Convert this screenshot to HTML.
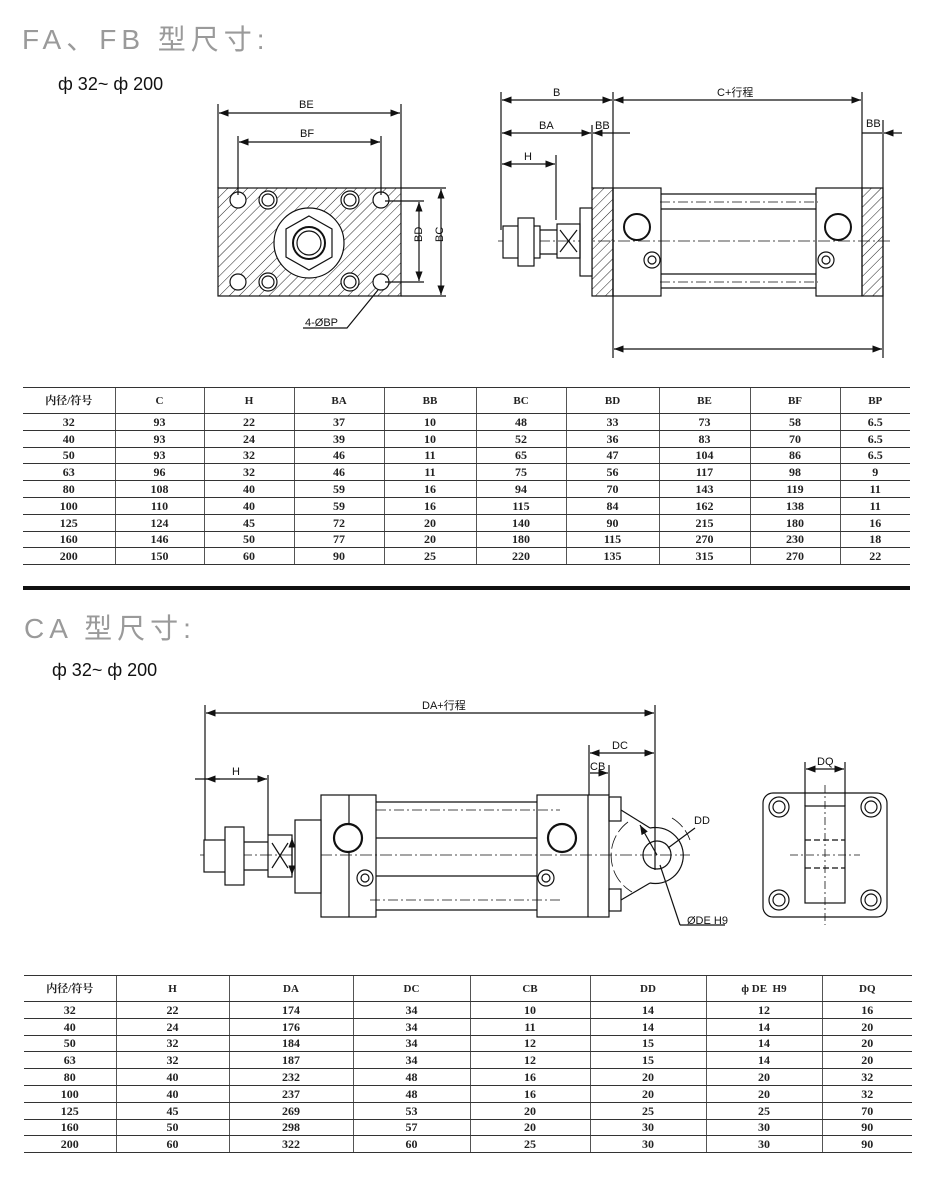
<!DOCTYPE html>
<html><head><meta charset="utf-8">
<style>
body{margin:0;background:#fff;width:942px;height:1199px;position:relative;overflow:hidden;font-family:"Liberation Sans","Noto Sans CJK SC",sans-serif;}
.t{position:absolute;color:#9a9a9a;font-size:28px;letter-spacing:5px;}
.p{position:absolute;color:#111;font-size:18px;}
table{position:absolute;border-collapse:collapse;font-family:"Liberation Serif","Noto Serif CJK SC",serif;font-weight:bold;font-size:12px;color:#222;table-layout:fixed;}
td{border-top:1.5px solid #333;border-bottom:1.5px solid #333;border-left:1px solid #555;text-align:center;padding:0;height:15.8px;line-height:14px;}
td:first-child{border-left:none;}
tr.h td{height:25px;font-size:11px;}
svg{position:absolute;left:0;top:0;}
svg text{font-family:"Liberation Sans","Noto Sans CJK SC",sans-serif;font-size:11px;fill:#111;}
</style></head><body>
<div class="t" style="left:22px;top:18px;">FA、FB 型尺寸:</div>
<div class="p" style="left:58px;top:74px;">ф 32~ ф 200</div>
<div class="t" style="left:24px;top:607px;">CA 型尺寸:</div>
<div class="p" style="left:52px;top:660px;">ф 32~ ф 200</div>

<svg width="942" height="1199" viewBox="0 0 942 1199">
<defs>
<pattern id="hat" width="7" height="7" patternUnits="userSpaceOnUse" patternTransform="rotate(45)">
<line x1="0" y1="0" x2="0" y2="7" stroke="#222" stroke-width="1"/></pattern>
<marker id="ar" markerWidth="8" markerHeight="6" refX="8" refY="3" orient="auto-start-reverse"><path d="M0,0 L8,3 L0,6z" fill="#111"/></marker>
</defs>
<g stroke="#111" stroke-width="1.2" fill="none">
<!-- FA left view -->
<rect x="218" y="188" width="183" height="108" fill="url(#hat)"/>
<circle cx="309" cy="243" r="35" fill="#fff"/>
<polygon points="309,216 332,229 332,257 309,270 286,257 286,229" fill="#fff"/>
<circle cx="309" cy="243" r="16" fill="#fff" stroke-width="2"/>
<circle cx="309" cy="243" r="12"/>
<g fill="#fff"><circle cx="238" cy="200" r="8"/><circle cx="381" cy="200" r="8"/><circle cx="238" cy="282" r="8"/><circle cx="381" cy="282" r="8"/>
<circle cx="268" cy="200" r="9"/><circle cx="350" cy="200" r="9"/><circle cx="268" cy="282" r="9"/><circle cx="350" cy="282" r="9"/></g>
<circle cx="268" cy="200" r="6"/><circle cx="350" cy="200" r="6"/><circle cx="268" cy="282" r="6"/><circle cx="350" cy="282" r="6"/>
<line x1="218" y1="104" x2="218" y2="188"/><line x1="401" y1="104" x2="401" y2="188"/>
<line x1="219" y1="113" x2="400" y2="113" marker-start="url(#ar)" marker-end="url(#ar)"/>
<line x1="238" y1="136" x2="238" y2="195"/><line x1="381" y1="136" x2="381" y2="195"/>
<line x1="239" y1="142" x2="380" y2="142" marker-start="url(#ar)" marker-end="url(#ar)"/>
<line x1="385" y1="201" x2="424" y2="201"/><line x1="385" y1="282" x2="424" y2="282"/>
<line x1="401" y1="188" x2="446" y2="188"/><line x1="401" y1="296" x2="446" y2="296"/>
<line x1="419" y1="202" x2="419" y2="281" marker-start="url(#ar)" marker-end="url(#ar)"/>
<line x1="441" y1="189" x2="441" y2="295" marker-start="url(#ar)" marker-end="url(#ar)"/>
<polyline points="378,290 347,328 303,328"/>
<!-- FA side view -->
<line x1="501" y1="92" x2="501" y2="230"/><line x1="613" y1="92" x2="613" y2="358"/><line x1="883" y1="120" x2="883" y2="358"/>
<line x1="862" y1="92" x2="862" y2="188"/><line x1="592" y1="125" x2="592" y2="188"/><line x1="556" y1="155" x2="556" y2="220"/>
<line x1="502" y1="100" x2="612" y2="100" marker-start="url(#ar)" marker-end="url(#ar)"/>
<line x1="614" y1="100" x2="861" y2="100" marker-start="url(#ar)" marker-end="url(#ar)"/>
<line x1="502" y1="133" x2="591" y2="133" marker-start="url(#ar)" marker-end="url(#ar)"/>
<line x1="593" y1="133" x2="630" y2="133" marker-start="url(#ar)"/>
<line x1="862" y1="133" x2="882" y2="133"/><line x1="902" y1="133" x2="884" y2="133" marker-end="url(#ar)"/>
<line x1="502" y1="164" x2="555" y2="164" marker-start="url(#ar)" marker-end="url(#ar)"/>
<line x1="614" y1="349" x2="882" y2="349" marker-start="url(#ar)" marker-end="url(#ar)"/>
<rect x="592" y="188" width="21" height="108" fill="url(#hat)"/>
<rect x="862" y="188" width="21" height="108" fill="url(#hat)"/>
<rect x="613" y="188" width="48" height="108"/><rect x="816" y="188" width="46" height="108"/>
<line x1="661" y1="194" x2="816" y2="194"/><line x1="661" y1="209" x2="816" y2="209"/>
<line x1="661" y1="274" x2="816" y2="274"/><line x1="661" y1="288" x2="816" y2="288"/>
<line x1="660" y1="202" x2="818" y2="202" stroke-dasharray="10,3,2,3" stroke-width="0.8"/>
<line x1="660" y1="282" x2="818" y2="282" stroke-dasharray="10,3,2,3" stroke-width="0.8"/>
<line x1="498" y1="241" x2="890" y2="241" stroke-dasharray="12,3,2,3" stroke-width="0.8"/>
<circle cx="637" cy="227" r="13" stroke-width="2"/><circle cx="838" cy="227" r="13" stroke-width="2"/>
<circle cx="652" cy="260" r="8"/><circle cx="652" cy="260" r="4"/><circle cx="826" cy="260" r="8"/><circle cx="826" cy="260" r="4"/>
<rect x="580" y="208" width="12" height="68" fill="#fff"/>
<rect x="557" y="224" width="23" height="34"/><line x1="560" y1="230" x2="577" y2="252"/><line x1="577" y1="230" x2="560" y2="252"/>
<rect x="503" y="226" width="37" height="32" fill="#fff"/>
<rect x="518" y="218" width="16" height="48" fill="#fff"/>
<line x1="540" y1="230" x2="557" y2="230"/><line x1="540" y1="254" x2="557" y2="254"/>
<!-- CA view -->
<line x1="205" y1="705" x2="205" y2="840"/><line x1="655" y1="705" x2="655" y2="870"/>
<line x1="206" y1="713" x2="654" y2="713" marker-start="url(#ar)" marker-end="url(#ar)"/>
<line x1="589" y1="745" x2="589" y2="795"/><line x1="609" y1="765" x2="609" y2="795"/>
<line x1="590" y1="753" x2="654" y2="753" marker-start="url(#ar)" marker-end="url(#ar)"/>
<line x1="590" y1="773" x2="608" y2="773" marker-end="url(#ar)"/>
<line x1="268" y1="775" x2="268" y2="835"/>
<line x1="195" y1="779" x2="267" y2="779" marker-end="url(#ar)"/>
<line x1="206" y1="779" x2="220" y2="779" marker-start="url(#ar)"/>
<rect x="321" y="795" width="55" height="122"/><line x1="349" y1="795" x2="349" y2="917"/>
<rect x="537" y="795" width="72" height="122"/><line x1="588" y1="795" x2="588" y2="917"/>
<line x1="376" y1="802" x2="537" y2="802"/><line x1="376" y1="838" x2="537" y2="838"/>
<line x1="376" y1="876" x2="537" y2="876"/><line x1="376" y1="910" x2="537" y2="910"/>
<line x1="376" y1="810" x2="560" y2="810" stroke-dasharray="10,3,2,3" stroke-width="0.8"/>
<line x1="370" y1="900" x2="560" y2="900" stroke-dasharray="10,3,2,3" stroke-width="0.8"/>
<line x1="200" y1="855" x2="690" y2="855" stroke-dasharray="12,3,2,3" stroke-width="0.8"/>
<circle cx="348" cy="838" r="14" stroke-width="2.2" fill="#fff"/><circle cx="562" cy="838" r="14" stroke-width="2.2" fill="#fff"/>
<circle cx="365" cy="878" r="8"/><circle cx="365" cy="878" r="4"/><circle cx="546" cy="878" r="8"/><circle cx="546" cy="878" r="4"/>
<rect x="609" y="797" width="12" height="24"/><rect x="609" y="889" width="12" height="22"/>
<line x1="621" y1="810" x2="650" y2="828"/><line x1="621" y1="900" x2="650" y2="883"/>
<path d="M650,828 A28,28 0 1 1 650,883"/>
<circle cx="657" cy="855" r="14"/>
<path d="M628,822 A42,42 0 0 0 632,892" stroke-dasharray="14,4" stroke-width="0.8"/>
<path d="M672,818 A42,42 0 0 1 690,840" stroke-dasharray="14,4" stroke-width="0.8"/>
<line x1="657" y1="855" x2="640" y2="825" marker-end="url(#ar)"/>
<line x1="668" y1="848" x2="695" y2="828"/>
<line x1="660" y1="865" x2="680" y2="925" /><line x1="680" y1="925" x2="725" y2="925"/>
<rect x="295" y="820" width="26" height="73" fill="#fff"/>
<line x1="292" y1="838" x2="292" y2="875" marker-start="url(#ar)" marker-end="url(#ar)"/>
<rect x="268" y="835" width="24" height="42"/><line x1="272" y1="843" x2="288" y2="868"/><line x1="288" y1="843" x2="272" y2="868"/>
<rect x="204" y="840" width="38" height="32" fill="#fff"/>
<rect x="225" y="827" width="19" height="58" fill="#fff"/>
<line x1="244" y1="842" x2="268" y2="842"/><line x1="244" y1="870" x2="268" y2="870"/>
<!-- CA end view -->
<rect x="763" y="793" width="124" height="124" rx="10"/>
<rect x="805" y="806" width="40" height="97"/>
<line x1="805" y1="762" x2="805" y2="806"/><line x1="845" y1="762" x2="845" y2="806"/>
<line x1="806" y1="769" x2="844" y2="769" marker-start="url(#ar)" marker-end="url(#ar)"/>
<line x1="825" y1="785" x2="825" y2="925" stroke-dasharray="8,3,2,3" stroke-width="0.8"/>
<line x1="790" y1="855" x2="860" y2="855" stroke-dasharray="8,3,2,3" stroke-width="0.8"/>
<line x1="805" y1="840" x2="845" y2="840" stroke-dasharray="6,3"/><line x1="805" y1="868" x2="845" y2="868" stroke-dasharray="6,3"/>
<circle cx="779" cy="807" r="10"/><circle cx="779" cy="807" r="6"/><circle cx="871" cy="807" r="10"/><circle cx="871" cy="807" r="6"/>
<circle cx="779" cy="900" r="10"/><circle cx="779" cy="900" r="6"/><circle cx="871" cy="900" r="10"/><circle cx="871" cy="900" r="6"/>
</g>
<line x1="23" y1="588" x2="910" y2="588" stroke="#111" stroke-width="4"/>
<text x="299" y="108">BE</text><text x="300" y="137">BF</text>
<text x="416" y="248" transform="rotate(-90 416 242)">BD</text>
<text x="437" y="248" transform="rotate(-90 437 242)">BC</text>
<text x="305" y="326">4-ØBP</text>
<text x="553" y="96">B</text><text x="717" y="96">C+行程</text>
<text x="539" y="129">BA</text><text x="595" y="129">BB</text><text x="866" y="127">BB</text>
<text x="524" y="160">H</text>
<text x="422" y="709">DA+行程</text><text x="612" y="749">DC</text><text x="590" y="770">CB</text>
<text x="232" y="775">H</text><text x="694" y="824">DD</text><text x="687" y="924">ØDE H9</text>
<text x="817" y="765">DQ</text>
</svg>

<table style="left:23px;top:387px;width:887px;">
<colgroup><col style="width:92px"><col style="width:89px"><col style="width:90px"><col style="width:90px"><col style="width:92px"><col style="width:90px"><col style="width:93px"><col style="width:91px"><col style="width:90px"><col style="width:70px"></colgroup>
<tr class="h"><td>内径/符号</td><td>C</td><td>H</td><td>BA</td><td>BB</td><td>BC</td><td>BD</td><td>BE</td><td>BF</td><td>BP</td></tr>
<tr><td>32</td><td>93</td><td>22</td><td>37</td><td>10</td><td>48</td><td>33</td><td>73</td><td>58</td><td>6.5</td></tr>
<tr><td>40</td><td>93</td><td>24</td><td>39</td><td>10</td><td>52</td><td>36</td><td>83</td><td>70</td><td>6.5</td></tr>
<tr><td>50</td><td>93</td><td>32</td><td>46</td><td>11</td><td>65</td><td>47</td><td>104</td><td>86</td><td>6.5</td></tr>
<tr><td>63</td><td>96</td><td>32</td><td>46</td><td>11</td><td>75</td><td>56</td><td>117</td><td>98</td><td>9</td></tr>
<tr><td>80</td><td>108</td><td>40</td><td>59</td><td>16</td><td>94</td><td>70</td><td>143</td><td>119</td><td>11</td></tr>
<tr><td>100</td><td>110</td><td>40</td><td>59</td><td>16</td><td>115</td><td>84</td><td>162</td><td>138</td><td>11</td></tr>
<tr><td>125</td><td>124</td><td>45</td><td>72</td><td>20</td><td>140</td><td>90</td><td>215</td><td>180</td><td>16</td></tr>
<tr><td>160</td><td>146</td><td>50</td><td>77</td><td>20</td><td>180</td><td>115</td><td>270</td><td>230</td><td>18</td></tr>
<tr><td>200</td><td>150</td><td>60</td><td>90</td><td>25</td><td>220</td><td>135</td><td>315</td><td>270</td><td>22</td></tr>
</table>

<table style="left:24px;top:975px;width:888px;">
<colgroup><col style="width:92px"><col style="width:113px"><col style="width:124px"><col style="width:117px"><col style="width:120px"><col style="width:116px"><col style="width:116px"><col style="width:90px"></colgroup>
<tr class="h"><td>内径/符号</td><td>H</td><td>DA</td><td>DC</td><td>CB</td><td>DD</td><td>ф DE&nbsp; H9</td><td>DQ</td></tr>
<tr><td>32</td><td>22</td><td>174</td><td>34</td><td>10</td><td>14</td><td>12</td><td>16</td></tr>
<tr><td>40</td><td>24</td><td>176</td><td>34</td><td>11</td><td>14</td><td>14</td><td>20</td></tr>
<tr><td>50</td><td>32</td><td>184</td><td>34</td><td>12</td><td>15</td><td>14</td><td>20</td></tr>
<tr><td>63</td><td>32</td><td>187</td><td>34</td><td>12</td><td>15</td><td>14</td><td>20</td></tr>
<tr><td>80</td><td>40</td><td>232</td><td>48</td><td>16</td><td>20</td><td>20</td><td>32</td></tr>
<tr><td>100</td><td>40</td><td>237</td><td>48</td><td>16</td><td>20</td><td>20</td><td>32</td></tr>
<tr><td>125</td><td>45</td><td>269</td><td>53</td><td>20</td><td>25</td><td>25</td><td>70</td></tr>
<tr><td>160</td><td>50</td><td>298</td><td>57</td><td>20</td><td>30</td><td>30</td><td>90</td></tr>
<tr><td>200</td><td>60</td><td>322</td><td>60</td><td>25</td><td>30</td><td>30</td><td>90</td></tr>
</table>
</body></html>
